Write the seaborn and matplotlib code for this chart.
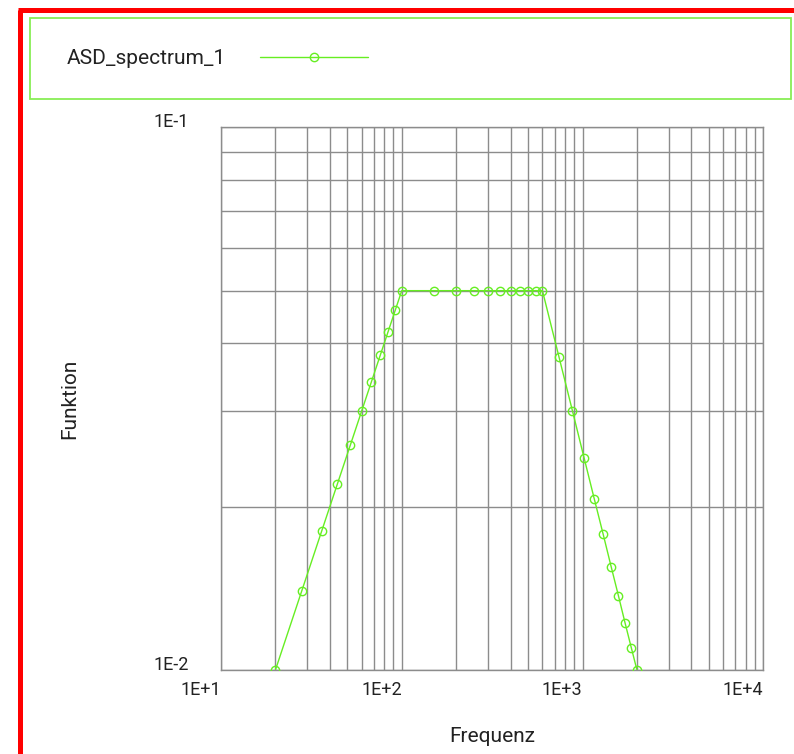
import matplotlib
matplotlib.use("Agg")
import numpy as np
import pandas as pd
import seaborn as sns
import matplotlib.pyplot as plt
from matplotlib.ticker import FixedLocator, FixedFormatter, LogLocator, NullFormatter
from matplotlib.lines import Line2D
from matplotlib.patches import Rectangle

# ---------------- data ----------------
series_name = "ASD_spectrum_1"
freq = [20, 28, 36, 44, 52, 60, 68, 76, 84, 92, 100,
        150, 200, 250, 300, 350, 400, 450, 500, 550, 600,
        740, 880, 1020, 1160, 1300, 1440, 1580, 1720, 1860, 2000]
asd = [0.010, 0.014, 0.018, 0.022, 0.026, 0.030, 0.034, 0.038, 0.042, 0.046, 0.050,
       0.050, 0.050, 0.050, 0.050, 0.050, 0.050, 0.050, 0.050, 0.050, 0.050,
       0.0378, 0.0300, 0.0246, 0.0207, 0.0178, 0.0155, 0.0137, 0.0122, 0.0110, 0.010]
x_ticks = [10, 100, 1000, 10000]
x_tick_labels = ["1E+1", "1E+2", "1E+3", "1E+4"]
y_ticks = [0.01, 0.1]
y_tick_labels = ["1E-2", "1E-1"]
x_label = "Frequenz"
y_label = "Funktion"

df = pd.DataFrame({"Frequenz": freq, "Funktion": asd})

# ---------------- style ----------------
sns.set_style("white")
plt.rcParams["font.family"] = ["Roboto", "DejaVu Sans"]
plt.rcParams["font.weight"] = "normal"

GREEN = "#66ee22"
BOX_GREEN = "#88ee55"
GRID = "#8c8c8c"
TXT = "#222222"
W, H = 794, 754

fig = plt.figure(figsize=(W / 100, H / 100), dpi=100)
fig.patch.set_facecolor("white")
ax = fig.add_axes([221 / W, 1 - 670 / H, 542.3 / W, 542.7 / H])

sns.lineplot(data=df, x="Frequenz", y="Funktion", ax=ax, color=GREEN, lw=1.0,
             marker="o", markersize=6, markerfacecolor="none",
             markeredgecolor=GREEN, markeredgewidth=1.0, label=series_name,
             sort=False, zorder=5)

ax.set_xscale("log")
ax.set_yscale("log")
ax.set_xlim(10, 10000)
ax.set_ylim(0.01, 0.1)

ax.xaxis.set_major_locator(FixedLocator(x_ticks))
ax.xaxis.set_major_formatter(FixedFormatter(x_tick_labels))
ax.xaxis.set_minor_locator(LogLocator(base=10, subs=np.arange(2, 10)))
ax.xaxis.set_minor_formatter(NullFormatter())
ax.yaxis.set_major_locator(FixedLocator(y_ticks))
ax.yaxis.set_major_formatter(FixedFormatter(y_tick_labels))
ax.yaxis.set_minor_locator(LogLocator(base=10, subs=np.arange(2, 10)))
ax.yaxis.set_minor_formatter(NullFormatter())

ax.grid(True, which="both", color=GRID, lw=1.0)
ax.set_axisbelow(True)
for s in ax.spines.values():
    s.set_visible(True)
    s.set_color(GRID)
    s.set_linewidth(1.0)

fs_tick = 13
ax.tick_params(axis="both", which="major", direction="out", length=4.3, width=1.0,
               color=GRID, labelcolor=TXT, labelsize=fs_tick)
ax.tick_params(axis="x", which="major", pad=3.5)
ax.tick_params(axis="y", which="major", pad=19)
ax.tick_params(axis="x", which="minor", length=0)
ax.tick_params(axis="y", which="minor", direction="out", length=2.0, width=1.0, color=GRID)

for t in ax.xaxis.get_major_ticks():
    t.label1.set_horizontalalignment("right")
for t in ax.yaxis.get_major_ticks():
    t.label1.set_verticalalignment("baseline")

fs_lab = 15
ax.set_xlabel(x_label, fontsize=fs_lab, color=TXT)
ax.set_ylabel(y_label, fontsize=fs_lab, color=TXT)
ax.xaxis.set_label_coords(0.5, (670 - 737) / 542.7)
ax.xaxis.label.set_verticalalignment("center")
ax.yaxis.set_label_coords((70 - 221) / 542.3, 0.5)
ax.yaxis.label.set_verticalalignment("center")
ax.yaxis.label.set_horizontalalignment("center")

# legend (no frame) + green box drawn around it
fs_leg = 15
handlelen = 108 / (fs_leg * 100 / 72)
textpad = 34 / (fs_leg * 100 / 72)
leg = ax.legend(loc="center left", bbox_to_anchor=(67 / W, 1 - 59 / H),
                bbox_transform=fig.transFigure, frameon=False, markerfirst=False,
                handlelength=handlelen, handletextpad=textpad, borderpad=0,
                borderaxespad=0, numpoints=1, prop={"size": fs_leg})
for txt in leg.get_texts():
    txt.set_color(TXT)

fig.add_artist(Rectangle((30 / W, 1 - 99 / H), 761 / W, 81 / H, fill=False,
                         edgecolor=BOX_GREEN, lw=1.3, transform=fig.transFigure))

# red frame (left and top)
fig.add_artist(Line2D([20 / W, 20 / W], [0, 1 - 9.5 / H], color="red", lw=3.6,
                      solid_capstyle="butt", transform=fig.transFigure))
fig.add_artist(Line2D([17.5 / W, 1], [1 - 9.5 / H, 1 - 9.5 / H], color="red", lw=3.6,
                      solid_capstyle="butt", transform=fig.transFigure))

fig.savefig("out.png", dpi=100, facecolor="white")
